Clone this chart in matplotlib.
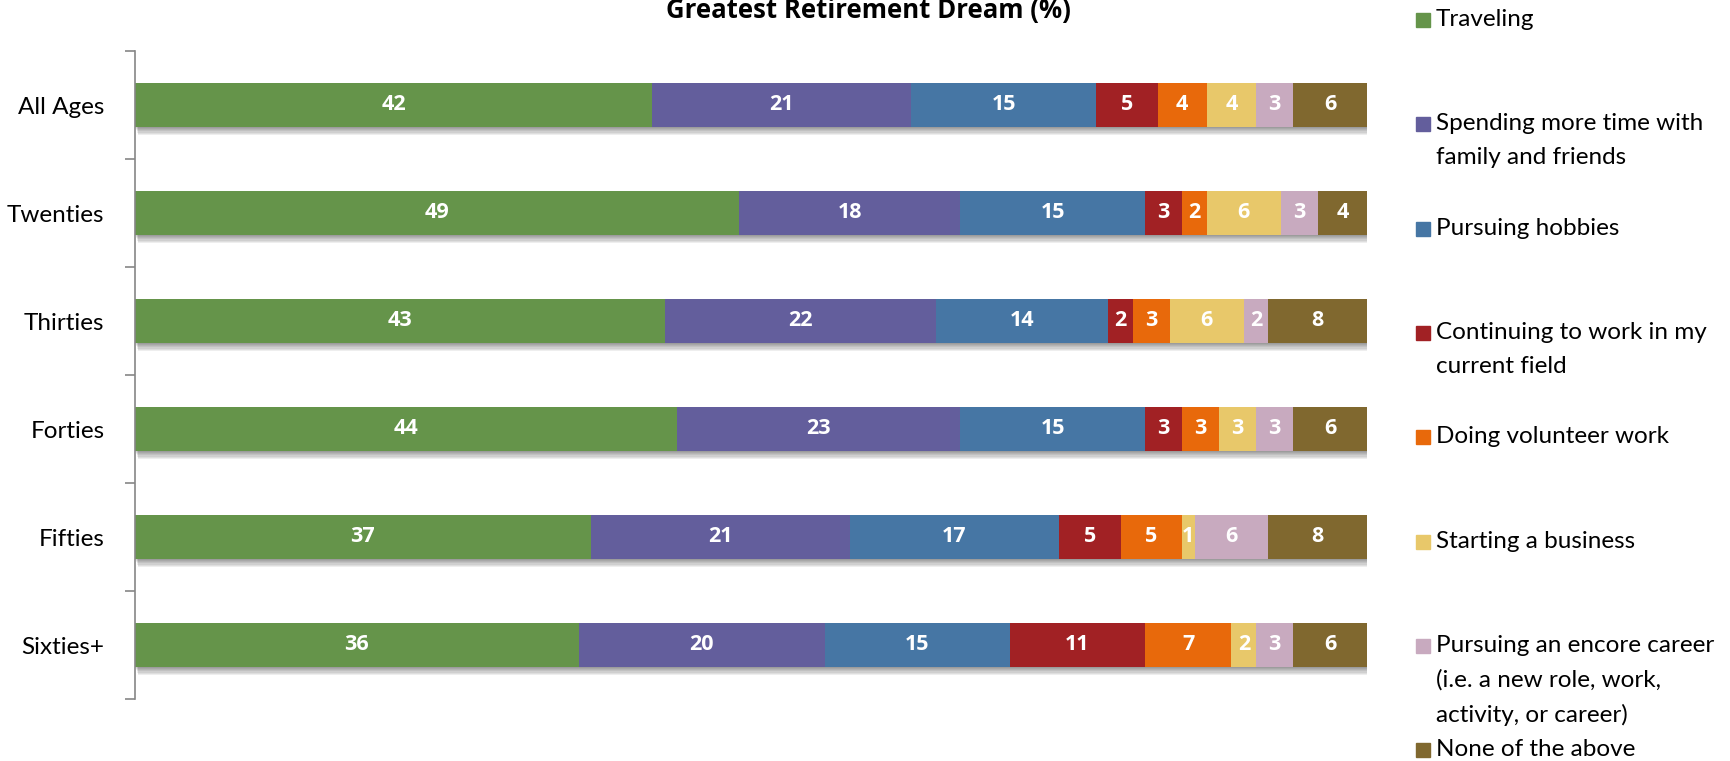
import matplotlib.pyplot as plt
import numpy as np


# =====================================================================================================================


CATEGORIES = ["All Ages", "Twenties", "Thirties", "Forties", "Fifties", "Sixties+"]
SERIES_NAMES = [
    "Traveling",
    "Spending more time with\nfamily and friends",
    "Pursuing hobbies",
    "Continuing to work in my\ncurrent field",
    "Doing volunteer work",
    "Starting a business",
    "Pursuing an encore career\n(i.e. a new role, work,\nactivity, or career)",
    "None of the above",
]
traveling = [42, 49, 43, 44, 37, 36]
family = [21, 18, 22, 23, 21, 20]
hobbies = [15, 15, 14, 15, 17, 15]
continuing = [5, 3, 2, 3, 5, 11]
volunteer = [4, 2, 3, 3, 5, 7]
business = [4, 6, 6, 3, 1, 2]
encore = [3, 3, 2, 3, 6, 3]
none_above = [6, 4, 8, 6, 8, 6]

COLORS = ["#65944a", "#635e9c", "#4676a4", "#a12124", "#e8690b", "#e8c86a", "#c8aabf", "#80682f"]
FONT = "Lato"
BOLD_FONT = "Open Sans"


# =====================================================================================================================


series = np.array([traveling, family, hobbies, continuing, volunteer, business, encore, none_above], dtype=float)
ypos = np.arange(len(CATEGORIES))
bar_h = 0.4

fig = plt.figure(figsize=(17.31, 7.61), dpi=100)
ax = fig.add_axes([135 / 1731, 1 - 699 / 761, (1367 - 135) / 1731, (699 - 51) / 761])

# soft drop shadow under each bar
totals = series.sum(axis=0)
for k in range(1, 8):
    ax.barh(ypos + 0.011 * k, totals, left=0.035 * k, height=bar_h, color="black", alpha=0.065, zorder=1)

left = np.zeros(len(CATEGORIES))
for vals, col in zip(series, COLORS):
    ax.barh(ypos, vals, left=left, height=bar_h, color=col, zorder=2)
    for y, v, l in zip(ypos, vals, left):
        ax.text(l + v / 2, y, "%d" % v, ha="center", va="center", color="white",
                fontsize=15.5, fontweight="bold", family=BOLD_FONT, zorder=3)
    left += vals

ax.set_xlim(0, 100)
ax.set_ylim(len(CATEGORIES) - 0.5, -0.5)
ax.set_xticks([])
ax.set_yticks(ypos)
ax.set_yticklabels(CATEGORIES, family=FONT, fontsize=17.5)
ax.set_yticks(np.arange(-0.5, len(CATEGORIES)), minor=True)
ax.tick_params(axis="y", which="major", length=0, pad=22)
ax.tick_params(axis="y", which="minor", length=7, width=1.2, color="#868686", direction="out")
for s in ["top", "right", "bottom"]:
    ax.spines[s].set_visible(False)
ax.spines["left"].set_color("#868686")
ax.spines["left"].set_linewidth(1.2)

fig.text(868 / 1731, 1 - 18 / 761, "Greatest Retirement Dream (%)", ha="center", va="baseline",
         fontsize=18.5, fontweight="bold", family=BOLD_FONT)

# legend on the right, one entry every ~104 px
for i, (name, col) in enumerate(zip(SERIES_NAMES, COLORS)):
    ytop = 20 + 104.3 * i
    fig.patches.append(plt.Rectangle((1416 / 1731, 1 - (ytop + 7) / 761), 14 / 1731, 14 / 761,
                                     transform=fig.transFigure, color=col))
    fig.text(1436 / 1731, 1 - (ytop - 11) / 761, name, ha="left", va="top", fontsize=17.5,
             family=FONT, linespacing=1.75)

plt.savefig("out.png", dpi=100)
